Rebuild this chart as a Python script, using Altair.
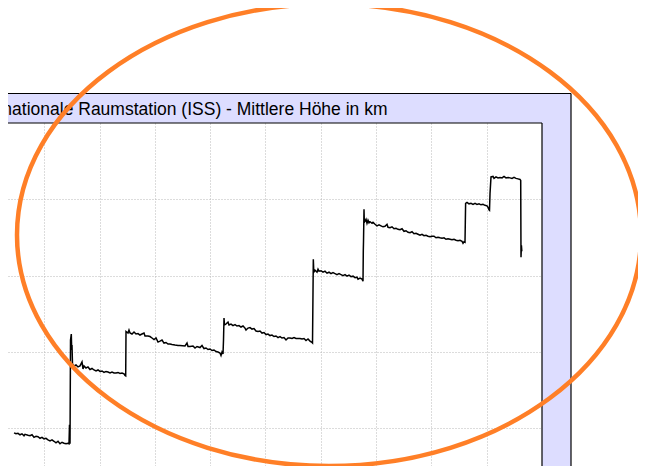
import altair as alt
import pandas as pd

# ISS mean altitude: (day, km) readings per plateau
stufe_1 = [(13.6, 359.41), (14.65, 359.28), (15.73, 359.34), (16.82, 359.15), (17.9, 359.28),
           (18.99, 359.02), (19.53, 359.21), (21.16, 359.08), (22.25, 359.02), (23.33, 359.15),
           (24.42, 358.82), (25.5, 358.95), (26.59, 358.89), (27.67, 358.69), (28.76, 358.82),
           (29.84, 358.62), (30.93, 358.69), (32.01, 358.49), (33.1, 358.36), (34.18, 358.49),
           (35.27, 358.30), (36.35, 358.10), (37.44, 358.30), (38.52, 357.97), (39.61, 358.17),
           (40.69, 358.04), (41.78, 357.97), (42.86, 358.04), (43.4, 357.97), (43.67, 360.45),
           (43.95, 357.97)]
stufe_2 = [(44.22, 371.57), (44.65, 372.35), (44.87, 370.26), (45.03, 370.91), (45.3, 368.43),
           (46.12, 368.17), (47.2, 368.30), (48.29, 368.04), (49.37, 368.17), (50.46, 368.69),
           (51.0, 367.77), (51.54, 368.17), (52.63, 367.90), (53.71, 368.04), (54.8, 367.71),
           (55.88, 367.84), (56.97, 367.64), (58.05, 367.51), (59.14, 367.64), (60.22, 367.45),
           (61.31, 367.51), (62.39, 367.32), (63.48, 367.45), (64.56, 367.38), (65.65, 367.25),
           (66.73, 367.38), (67.82, 367.25), (68.9, 367.25), (69.99, 367.32), (71.07, 367.19),
           (72.16, 367.25), (73.24, 367.12), (73.78, 366.92), (74.16, 366.86)]
stufe_3 = [(74.33, 372.68), (75.41, 372.48), (75.95, 372.87), (76.5, 372.48), (77.58, 372.35),
           (78.67, 372.61), (79.75, 372.35), (80.84, 372.41), (81.92, 372.22), (83.0, 372.35),
           (84.09, 372.48), (84.63, 372.09), (86.26, 372.09), (87.35, 372.02), (88.43, 371.83),
           (89.52, 371.63), (90.6, 371.83), (91.69, 371.30), (92.77, 371.43), (93.86, 371.57),
           (94.94, 371.17), (96.03, 371.24), (97.11, 371.04), (98.2, 371.04), (99.28, 370.98),
           (100.91, 370.91), (102.54, 370.85), (103.62, 370.85), (106.33, 370.78), (107.42, 371.17),
           (107.96, 370.72), (109.05, 370.72), (110.67, 370.78), (111.76, 370.52), (112.84, 370.72),
           (114.47, 370.58), (115.56, 370.85), (116.64, 370.45), (117.73, 370.52), (118.81, 370.32),
           (119.9, 370.39), (120.98, 370.19), (122.07, 370.26), (123.15, 370.06), (124.24, 370.00),
           (125.32, 369.87), (125.86, 369.54), (126.41, 370.00), (126.95, 369.73)]
stufe_4 = [(127.22, 371.57), (127.49, 374.44), (127.76, 373.53), (128.58, 373.66), (129.66, 373.92),
           (130.2, 373.53), (131.29, 373.66), (132.37, 373.46), (133.46, 373.59), (134.54, 373.40),
           (135.63, 373.46), (136.71, 373.27), (137.8, 373.40), (138.88, 373.13), (139.43, 372.87),
           (140.51, 373.13), (141.6, 373.20), (142.68, 373.00), (143.77, 373.07), (144.85, 372.74),
           (145.94, 372.68), (147.02, 372.74), (148.11, 372.48), (149.19, 372.55), (150.28, 372.28),
           (151.36, 372.35), (152.45, 372.15), (153.53, 372.22), (154.62, 372.02), (155.7, 372.09),
           (156.79, 371.89), (157.87, 372.02), (158.96, 371.83), (160.04, 371.89), (161.13, 371.57),
           (162.21, 371.83), (163.3, 371.83), (164.38, 371.76), (165.47, 371.89), (166.55, 371.76),
           (167.64, 371.76), (168.72, 371.76), (169.81, 371.70), (170.89, 371.76), (171.98, 371.50),
           (173.06, 371.70), (174.15, 371.43), (174.96, 371.30), (175.5, 371.17)]
stufe_5 = [(175.94, 382.15), (176.21, 380.45), (176.86, 380.72), (177.94, 380.45), (178.49, 380.85),
           (179.03, 380.59), (180.11, 380.65), (181.2, 380.45), (182.28, 380.59), (183.37, 380.32),
           (184.45, 380.45), (185.54, 380.26), (186.62, 380.39), (187.71, 380.26), (188.79, 380.13),
           (189.88, 380.26), (190.96, 380.13), (192.05, 380.00), (193.13, 380.13), (194.22, 379.93),
           (195.3, 380.06), (196.39, 379.87), (197.47, 379.93), (198.56, 379.73), (199.64, 379.80),
           (200.19, 379.54), (201.27, 379.67), (202.36, 379.54), (202.9, 379.28)]
stufe_6 = [(203.06, 383.33), (203.17, 384.51), (203.44, 388.69), (203.6, 386.99), (204.53, 387.38),
           (205.07, 386.86), (205.61, 387.25), (206.15, 386.92), (206.7, 387.06), (207.78, 386.86),
           (208.32, 386.99), (209.41, 386.73), (210.49, 386.53), (211.58, 386.66), (212.66, 386.53),
           (213.75, 386.40), (214.83, 386.47), (215.92, 386.73), (216.46, 386.34), (217.55, 386.27),
           (218.63, 386.40), (219.72, 386.14), (220.8, 386.21), (221.89, 386.07), (222.97, 386.01),
           (224.06, 386.14), (225.14, 385.81), (226.23, 385.88), (227.31, 385.68), (228.4, 385.62),
           (229.48, 385.75), (230.57, 385.49), (231.65, 385.55), (232.74, 385.42), (233.82, 385.29),
           (234.91, 385.42), (235.99, 385.23), (237.08, 385.29), (238.16, 385.16), (239.25, 385.09),
           (240.33, 385.16), (241.42, 385.16), (242.5, 384.96), (243.59, 385.03), (244.67, 384.96),
           (245.76, 384.90), (246.84, 384.96), (247.93, 384.77), (249.01, 384.83), (250.1, 384.77),
           (251.18, 384.70), (252.27, 384.77), (253.35, 384.64), (254.44, 384.57), (255.52, 384.64),
           (256.61, 384.51), (257.15, 384.24), (257.69, 384.44), (258.23, 384.37)]
stufe_7 = [(258.4, 386.99), (258.56, 389.47), (259.32, 389.60), (260.4, 389.41), (261.49, 389.47),
           (262.57, 389.34), (263.66, 389.47), (264.74, 389.34), (265.83, 389.41), (266.91, 389.28),
           (268.0, 389.34), (269.08, 389.21), (270.17, 389.15), (270.71, 388.95), (271.25, 388.62),
           (271.52, 388.56)]
stufe_8 = [(271.8, 390.78), (272.34, 392.94), (273.42, 393.00), (273.97, 392.74), (275.05, 392.94),
           (276.14, 392.81), (277.22, 392.87), (278.31, 392.81), (279.39, 393.00), (280.48, 392.81),
           (281.56, 392.87), (282.65, 392.81), (283.73, 392.74), (284.82, 392.87), (285.9, 392.74),
           (286.99, 392.68), (288.07, 392.61), (288.45, 392.48), (288.61, 382.41), (288.83, 383.98),
           (289.05, 383.20)]

titel = "Internationale Raumstation (ISS) - Mittlere Höhe in km"
x_gitter = [30, 60, 90, 120, 150, 180, 210, 240, 270]
y_gitter = [360, 370, 380, 390]
ellipse_x = [184.45]
ellipse_y = [385.33]

punkte = stufe_1 + stufe_2 + stufe_3 + stufe_4 + stufe_5 + stufe_6 + stufe_7 + stufe_8
df = pd.DataFrame(punkte, columns=["Tag", "Hoehe"])
df["i"] = range(len(df))

W, H = 534, 343
xs = alt.Scale(domain=[10.31, 300], nice=False, zero=False)
ys = alt.Scale(domain=[355.06, 400], nice=False, zero=False)
grid_kw = dict(grid=True, labels=False, ticks=False, domain=False, title=None,
               gridDash=[1, 2], gridColor="#b8b8b8", gridWidth=1)
x_axis = alt.Axis(values=x_gitter, **grid_kw)
y_axis = alt.Axis(values=y_gitter, **grid_kw)

one = pd.DataFrame({"d": [0]})
LAV = "#DDDDFF"
band_top = alt.Chart(one).mark_rect(color=LAV).encode(
    x=alt.value(-10), x2=alt.value(563), y=alt.value(-29.5), y2=alt.value(0))
band_right = alt.Chart(one).mark_rect(color=LAV).encode(
    x=alt.value(534), x2=alt.value(563), y=alt.value(0), y2=alt.value(H))

def rule(**kw):
    return alt.Chart(one).mark_rule(color="black", strokeWidth=1.2).encode(**{k: alt.value(v) for k, v in kw.items()})

borders = [
    rule(x=-10, x2=563, y=-29.5),
    rule(x=563, y=-29.5, y2=H),
    rule(x=-10, x2=534, y=0),
    rule(x=534, y=0, y2=H),
]

line = alt.Chart(df).mark_line(color="black", strokeWidth=1.5).encode(
    x=alt.X("Tag:Q", scale=xs, axis=x_axis),
    y=alt.Y("Hoehe:Q", scale=ys, axis=y_axis),
    order="i:Q",
)

title_txt = alt.Chart(one).mark_text(
    text=titel, align="right", baseline="alphabetic", font="Liberation Sans",
    fontSize=17.5, color="black").encode(x=alt.value(379.5), y=alt.value(-8))

k = 0.5523
a = 231 / 312
ka = k * a
ell_path = (f"M-1,0 C-1,{-ka:.4f} {-k},{-a:.4f} 0,{-a:.4f} "
            f"C{k},{-a:.4f} 1,{-ka:.4f} 1,0 "
            f"C1,{ka:.4f} {k},{a:.4f} 0,{a:.4f} "
            f"C{-k},{a:.4f} -1,{ka:.4f} -1,0 Z")
ellipse = alt.Chart(pd.DataFrame({"ex": ellipse_x, "ey": ellipse_y})).mark_point(
    shape=ell_path, size=624 * 624, filled=False, stroke="#FF7F27", strokeWidth=4.5, opacity=1
).encode(x=alt.X("ex:Q", scale=xs, axis=x_axis), y=alt.Y("ey:Q", scale=ys, axis=y_axis))

chart = alt.layer(band_top, band_right, *borders, line, title_txt, ellipse).properties(
    width=W, height=H,
    padding={"left": 0, "top": 115, "right": 96, "bottom": 0},
    autosize=alt.AutoSizeParams(type="none"),
    background="white",
).configure_view(stroke=None)

chart.save("out.html", embed_options={"renderer": "svg", "actions": False})
